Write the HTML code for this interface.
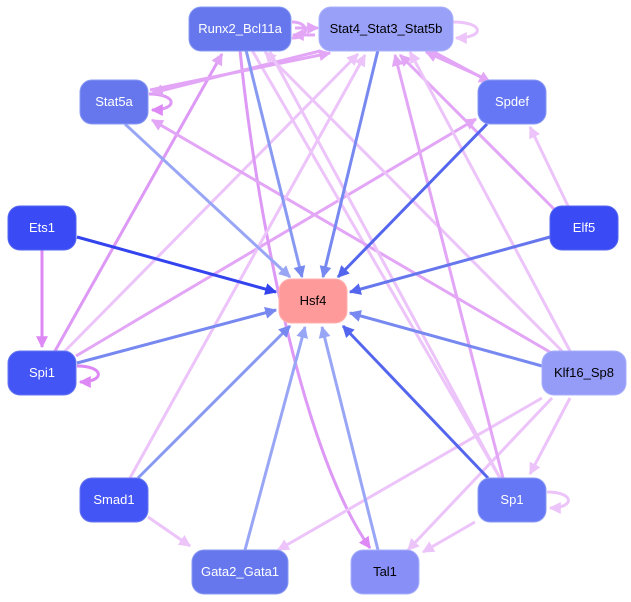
<!DOCTYPE html>
<html><head><meta charset="utf-8"><style>
html,body{margin:0;padding:0;background:#fff;}
svg{display:block;font-family:"Liberation Sans",sans-serif;font-size:13px;}
</style></head><body>
<svg width="631" height="602" viewBox="0 0 631 602">
<defs>
<marker id="bA" viewBox="0 0 10 10" refX="9" refY="5" markerWidth="4" markerHeight="4" orient="auto" markerUnits="strokeWidth"><path d="M0,0L10,5L0,10z" fill="#3344ee"/></marker>
<marker id="bB" viewBox="0 0 10 10" refX="9" refY="5" markerWidth="4" markerHeight="4" orient="auto" markerUnits="strokeWidth"><path d="M0,0L10,5L0,10z" fill="#5566ee"/></marker>
<marker id="bC" viewBox="0 0 10 10" refX="9" refY="5" markerWidth="4" markerHeight="4" orient="auto" markerUnits="strokeWidth"><path d="M0,0L10,5L0,10z" fill="#7788f0"/></marker>
<marker id="bD" viewBox="0 0 10 10" refX="9" refY="5" markerWidth="4" markerHeight="4" orient="auto" markerUnits="strokeWidth"><path d="M0,0L10,5L0,10z" fill="#99a6f5"/></marker>
<marker id="pA" viewBox="0 0 10 10" refX="9" refY="5" markerWidth="4" markerHeight="4" orient="auto" markerUnits="strokeWidth"><path d="M0,0L10,5L0,10z" fill="#dd88f5"/></marker>
<marker id="pB" viewBox="0 0 10 10" refX="9" refY="5" markerWidth="4" markerHeight="4" orient="auto" markerUnits="strokeWidth"><path d="M0,0L10,5L0,10z" fill="#e3a6f7"/></marker>
<marker id="pC" viewBox="0 0 10 10" refX="9" refY="5" markerWidth="4" markerHeight="4" orient="auto" markerUnits="strokeWidth"><path d="M0,0L10,5L0,10z" fill="#ecc4fa"/></marker>
</defs>
<g fill="none" stroke-width="3">
<line x1="42" y1="250" x2="42" y2="347" stroke="#dd88f5" marker-end="url(#pA)"/>
<path d="M77,366 C105,366 105,382 80,382" stroke="#dd88f5" marker-end="url(#pA)"/>
<line x1="55" y1="351" x2="222" y2="54" stroke="#dd99f5" marker-end="url(#pB)"/>
<line x1="65" y1="351" x2="358" y2="54" stroke="#ecc4fa" marker-end="url(#pC)"/>
<line x1="76" y1="356" x2="476" y2="119" stroke="#e3a6f7" marker-end="url(#pB)"/>
<path d="M240,50 C255,200 300,450 370,548" stroke="#dd99f5" marker-end="url(#pA)"/>
<line x1="252" y1="50" x2="500" y2="478" stroke="#ecc4fa"/>
<path d="M292,22 C310,22 310,38 292,38" stroke="#e3a6f7"/>
<line x1="295" y1="28" x2="318" y2="28" stroke="#e3a6f7" marker-end="url(#pB)"/>
<line x1="315" y1="35" x2="293" y2="35" stroke="#e3a6f7" marker-end="url(#pB)"/>
<path d="M453,22 C485,22 485,38 456,38" stroke="#ecc4fa" marker-end="url(#pC)"/>
<path d="M149,94 C178,94 178,110 152,110" stroke="#dd99f5" marker-end="url(#pA)"/>
<line x1="150" y1="90" x2="330" y2="53" stroke="#e3a6f7" marker-end="url(#pB)"/>
<line x1="320" y1="51" x2="152" y2="93" stroke="#e3a6f7" marker-end="url(#pB)"/>
<line x1="430" y1="50" x2="490" y2="82" stroke="#e3a6f7" marker-end="url(#pB)"/>
<line x1="486" y1="79" x2="426" y2="52" stroke="#e3a6f7" marker-end="url(#pB)"/>
<line x1="568" y1="206" x2="530" y2="127" stroke="#ecc4fa" marker-end="url(#pC)"/>
<line x1="560" y1="215" x2="400" y2="55" stroke="#e3a6f7" marker-end="url(#pB)"/>
<line x1="555" y1="355" x2="152" y2="120" stroke="#e3a6f7" marker-end="url(#pB)"/>
<line x1="562" y1="351" x2="265" y2="52" stroke="#ecc4fa" marker-end="url(#pC)"/>
<line x1="570" y1="351" x2="410" y2="52" stroke="#ecc4fa" marker-end="url(#pC)"/>
<line x1="542" y1="398" x2="278" y2="550" stroke="#ecc4fa" marker-end="url(#pC)"/>
<line x1="552" y1="398" x2="408" y2="550" stroke="#ecc4fa" marker-end="url(#pC)"/>
<line x1="570" y1="398" x2="530" y2="474" stroke="#ecc4fa" marker-end="url(#pC)"/>
<path d="M547,492 C575,492 575,508 550,508" stroke="#ecc4fa" marker-end="url(#pC)"/>
<line x1="475" y1="522" x2="423" y2="552" stroke="#ecc4fa" marker-end="url(#pC)"/>
<line x1="503" y1="478" x2="395" y2="55" stroke="#e3a6f7" marker-end="url(#pB)"/>
<line x1="130" y1="478" x2="365" y2="55" stroke="#ecc4fa" marker-end="url(#pC)"/>
<line x1="148" y1="517" x2="190" y2="546" stroke="#ecc4fa" marker-end="url(#pC)"/>
<line x1="500" y1="478" x2="270" y2="52" stroke="#ecc4fa"/>
<line x1="77" y1="237" x2="276" y2="292" stroke="#3344ee" marker-end="url(#bA)"/>
<line x1="77" y1="363" x2="276" y2="310" stroke="#7788f0" marker-end="url(#bC)"/>
<line x1="125" y1="124" x2="290" y2="277" stroke="#99a6f5" marker-end="url(#bD)"/>
<line x1="246" y1="50" x2="302" y2="277" stroke="#8899f2" marker-end="url(#bC)"/>
<line x1="378" y1="50" x2="323" y2="277" stroke="#7788f0" marker-end="url(#bC)"/>
<line x1="487" y1="124" x2="338" y2="277" stroke="#5566ee" marker-end="url(#bB)"/>
<line x1="550" y1="237" x2="350" y2="292" stroke="#6677ee" marker-end="url(#bB)"/>
<line x1="542" y1="366" x2="350" y2="313" stroke="#7788f0" marker-end="url(#bC)"/>
<line x1="488" y1="478" x2="343" y2="326" stroke="#5566ee" marker-end="url(#bB)"/>
<line x1="138" y1="478" x2="290" y2="326" stroke="#8899f2" marker-end="url(#bC)"/>
<line x1="245" y1="550" x2="305" y2="327" stroke="#99a6f5" marker-end="url(#bD)"/>
<line x1="378" y1="550" x2="322" y2="327" stroke="#99a6f5" marker-end="url(#bD)"/>
</g>
<g stroke-width="1">
<rect x="189" y="7" width="102" height="44" rx="12" fill="#6677ee" stroke="#8899f2"/>
<rect x="319" y="7" width="134" height="44" rx="12" fill="#99a0f8" stroke="#aab0fa"/>
<rect x="80" y="80" width="68" height="44" rx="12" fill="#6677ee" stroke="#8899f2"/>
<rect x="478" y="80" width="68" height="44" rx="12" fill="#6677f5" stroke="#8899f2"/>
<rect x="8" y="206" width="68" height="44" rx="12" fill="#3a4af5" stroke="#5566ee"/>
<rect x="550" y="206" width="68" height="44" rx="12" fill="#3a4af5" stroke="#5566ee"/>
<rect x="279" y="279" width="68" height="44" rx="12" fill="#ff9a9a" stroke="#ffb0b0"/>
<rect x="8" y="351" width="68" height="44" rx="12" fill="#4455f5" stroke="#6677ee"/>
<rect x="542" y="351" width="84" height="44" rx="12" fill="#949cf8" stroke="#aab0fa"/>
<rect x="80" y="478" width="68" height="44" rx="12" fill="#4455f5" stroke="#6677ee"/>
<rect x="478" y="478" width="68" height="44" rx="12" fill="#6677f5" stroke="#8899f2"/>
<rect x="192" y="550" width="96" height="44" rx="12" fill="#6677ee" stroke="#8899f2"/>
<rect x="351" y="550" width="68" height="44" rx="12" fill="#8890f8" stroke="#aab0fa"/>
</g>
<g text-anchor="middle" fill="#fff">
<text x="240" y="33">Runx2_Bcl11a</text>
<text x="386" y="33" fill="#000">Stat4_Stat3_Stat5b</text>
<text x="114" y="106">Stat5a</text>
<text x="512" y="106">Spdef</text>
<text x="42" y="232">Ets1</text>
<text x="584" y="232">Elf5</text>
<text x="313" y="305" fill="#000">Hsf4</text>
<text x="42" y="377">Spi1</text>
<text x="584" y="377" fill="#000">Klf16_Sp8</text>
<text x="114" y="504">Smad1</text>
<text x="512" y="504">Sp1</text>
<text x="240" y="576">Gata2_Gata1</text>
<text x="385" y="576" fill="#000">Tal1</text>
</g>
</svg>
</body></html>
